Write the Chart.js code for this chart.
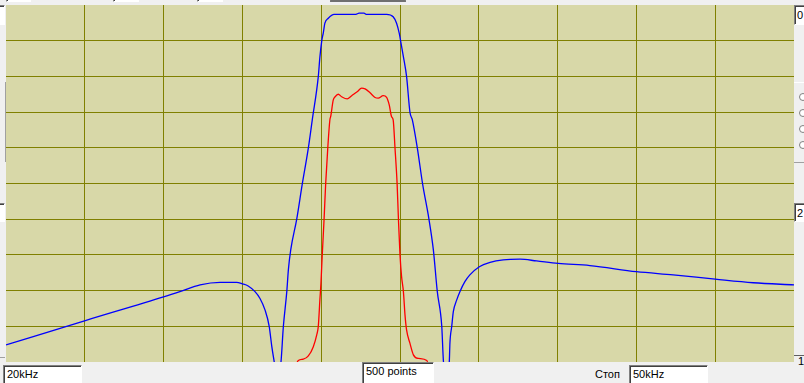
<!DOCTYPE html>
<html>
<head>
<meta charset="utf-8">
<script src="https://cdn.jsdelivr.net/npm/chart.js@4/dist/chart.umd.min.js"></script>
<style>
  html, body { margin:0; padding:0; }
  body { width:804px; height:383px; background:#F0F0F0; position:relative; overflow:hidden;
         font-family:"Liberation Sans", Arial, sans-serif; font-size:11px; color:#000; }
  #wrap { position:absolute; left:6px; top:5px; width:788px; height:357px; }
  .box { position:absolute; background:#fff; box-sizing:border-box;
         border-top:1px solid #808080; border-left:1px solid #808080;
         border-right:1px solid #fff; border-bottom:1px solid #fff;
         box-shadow: inset 1px 1px 0 #404040; }
  .box span { position:absolute; left:3px; top:2px; white-space:nowrap; }
  .lbl { position:absolute; white-space:nowrap; }
  .line { position:absolute; background:#A0A0A0; }
  .radio { position:absolute; width:8px; height:8px; border-radius:50%; border:1px solid #808080; background:#fff; box-sizing:border-box; }
</style>
</head>
<body>
<!-- top widgets (partially visible) -->
<div class="box" style="left:6px; top:-6px; width:25px; height:8px;"></div>
<div class="box" style="left:113px; top:-6px; width:26px; height:8px;"></div>
<div class="box" style="left:197px; top:-6px; width:26px; height:8px;"></div>
<div style="position:absolute; left:330px; top:-6px; width:76px; height:8px; background:#E0E0E0; border:1px solid #808080; box-sizing:border-box; border-bottom:2px solid #707070;"></div>

<!-- left side widgets -->
<div class="box" style="left:-6px; top:5px; width:11px; height:20px;"></div>
<div class="line" style="left:5px; top:82px; width:1px; height:80px;"></div>
<div class="box" style="left:-6px; top:203px; width:11px; height:19px;"></div>
<div class="line" style="left:0px; top:357px; width:5px; height:1px;"></div>

<!-- right side widgets -->
<div class="box" style="left:794px; top:5px; width:14px; height:20px;"><span style="left:2px;top:3px;">0</span></div>
<div class="line" style="left:794px; top:82px; width:10px; height:1px; background:#fff;"></div>
<div class="radio" style="left:799px; top:93px;"></div>
<div class="radio" style="left:799px; top:109px;"></div>
<div class="radio" style="left:799px; top:125px;"></div>
<div class="radio" style="left:799px; top:141px;"></div>
<div class="line" style="left:794px; top:162px; width:10px; height:1px;"></div>
<div class="box" style="left:794px; top:203px; width:14px; height:19px;"><span style="left:2px;top:3px;">2</span></div>
<div class="line" style="left:794px; top:355px; width:10px; height:1px; background:#606060;"></div>
<div class="lbl" style="left:798px; top:355px;">1</div>

<!-- bottom widgets -->
<div class="box" style="left:3px; top:365px; width:79px; height:22px;"><span>20kHz</span></div>
<div class="box" style="left:362px; top:362px; width:72px; height:22px;"><span style="top:2px;">500 points</span></div>
<div class="lbl" style="left:595px; top:368px;">Стоп</div>
<div class="box" style="left:629px; top:365px; width:79px; height:22px;"><span>50kHz</span></div>

<div id="wrap"><canvas id="c" width="788" height="357"></canvas></div>

<script>
// Frequency axis (kHz) and level (dB)
const xTickStart = 20, xTickEnd = 50, xTickStep = 3;
const yTickMin = -100, yTickMax = 0, yTickStep = 10;

const blueFreq = [20.00,23.02,26.03,26.62,27.39,28.15,28.78,29.00,29.22,29.48,29.67,29.86,30.02,30.12,30.21,30.34,30.47,30.56,30.69,30.75,30.84,31.07,31.28,31.51,31.66,31.89,31.95,32.02,32.08,32.14,32.27,32.49,33.32,33.44,33.63,33.71,34.49,34.74,34.87,34.97,35.03,35.13,35.25,35.38,35.47,35.66,35.86,36.10,36.27,36.42,36.59,36.65,36.77,36.88,36.90,36.97,37.03,37.16,37.28,37.47,37.66,38.02,38.43,38.93,39.57,40.20,41.02,42.23,44.00,45.40,47.00,48.45,50.00];
const blueDb   = [-95.2,-88.4,-81.7,-80.3,-78.4,-77.7,-77.7,-78.1,-78.7,-80.3,-82.2,-85.4,-90.0,-95.7,-99.9,-106.0,-99.9,-90.0,-80.3,-74.2,-68.6,-59.9,-50.1,-40.1,-32.2,-20.0,-14.6,-10.1,-7.8,-5.1,-3.7,-2.6,-2.6,-2.3,-2.3,-2.6,-2.6,-3.3,-5.1,-7.9,-10.3,-14.5,-20.0,-30.1,-32.2,-40.1,-50.1,-59.9,-68.6,-80.3,-90.0,-99.4,-106.0,-99.4,-94.8,-90.0,-85.9,-82.6,-80.3,-77.5,-75.6,-73.3,-72.1,-71.4,-71.2,-71.7,-72.4,-73.0,-74.7,-75.6,-76.8,-77.8,-78.4];

const redFreq = [30.81,31.13,31.32,31.51,31.70,31.83,31.89,31.95,31.99,32.04,32.11,32.17,32.25,32.33,32.36,32.46,32.53,32.65,32.78,32.99,33.16,33.37,33.54,33.67,33.86,34.05,34.17,34.36,34.49,34.59,34.68,34.74,34.81,34.89,34.94,35.00,35.06,35.13,35.19,35.25,35.38,35.51,35.70,36.02,36.22];
const redDb   = [-106.0,-99.6,-99.2,-98.3,-95.7,-92.4,-90.0,-82.6,-78.0,-70.0,-59.9,-50.1,-40.1,-32.2,-31.3,-26.6,-25.7,-25.0,-25.7,-26.3,-25.4,-24.3,-23.3,-23.5,-24.6,-25.9,-26.1,-25.4,-25.9,-28.0,-31.3,-32.2,-40.1,-50.1,-59.9,-70.0,-76.1,-80.3,-86.8,-91.0,-94.8,-98.0,-99.0,-99.6,-106.0];

const toXY = (xs, ys) => xs.map((x, i) => ({x: x, y: ys[i]}));

const bgPlugin = {
  id: 'plotBg',
  beforeDraw(chart) {
    const {ctx, chartArea: a} = chart;
    ctx.save();
    ctx.fillStyle = '#D8D8A8';
    ctx.fillRect(a.left, a.top, a.right - a.left, a.bottom - a.top);
    ctx.restore();
  }
};

const gridColor = (min, max) => (c) => {
  const v = c.tick ? c.tick.value : null;
  if (v === null) return '#808000';
  return (Math.abs(v - min) < 1e-6 || Math.abs(v - max) < 1e-6) ? 'rgba(0,0,0,0)' : '#808000';
};

new Chart(document.getElementById('c'), {
  type: 'line',
  data: {
    datasets: [
      { data: toXY(blueFreq, blueDb), borderColor: '#0000FF', borderWidth: 1.3, pointRadius: 0, cubicInterpolationMode: 'monotone', fill: false },
      { data: toXY(redFreq, redDb), borderColor: '#FF0000', borderWidth: 1.3, pointRadius: 0, cubicInterpolationMode: 'monotone', fill: false }
    ]
  },
  options: {
    responsive: false,
    animation: false,
    devicePixelRatio: 1,
    layout: { padding: 0 },
    plugins: { legend: { display: false }, tooltip: { enabled: false } },
    scales: {
      x: {
        type: 'linear', min: xTickStart, max: xTickEnd,
        ticks: { display: false, stepSize: xTickStep },
        grid: { color: gridColor(xTickStart, xTickEnd), lineWidth: 1, drawTicks: false },
        border: { display: false }
      },
      y: {
        type: 'linear', min: yTickMin, max: yTickMax,
        ticks: { display: false, stepSize: yTickStep },
        grid: { color: gridColor(yTickMin, yTickMax), lineWidth: 1, drawTicks: false },
        border: { display: false }
      }
    }
  },
  plugins: [bgPlugin]
});
</script>
</body>
</html>
